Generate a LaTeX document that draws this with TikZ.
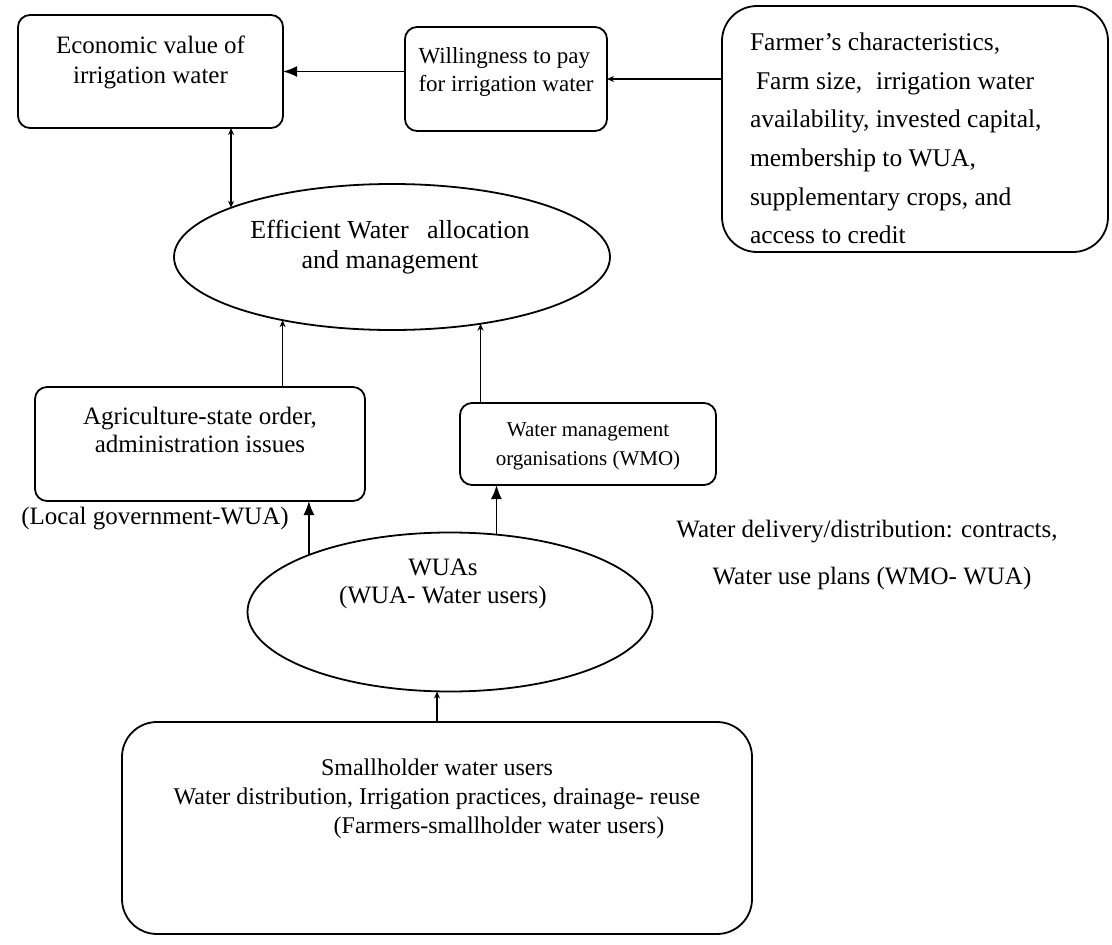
\documentclass[tikz,border=0pt]{standalone}
\usepackage{fontspec}
\setmainfont{Liberation Serif}
\usetikzlibrary{arrows.meta,shapes.geometric}
\newcommand{\fs}[2]{\fontsize{#1}{#2}\selectfont}
\begin{document}
\begin{tikzpicture}[x=1pt,y=-1pt,
  every node/.style={font=\fs{24}{29}},
  box/.style={draw, line width=1.8pt, rounded corners=12pt, inner sep=0pt, outer sep=0pt},
  ell/.style={draw, ellipse, line width=1.8pt, inner sep=0pt, outer sep=0pt},
  txt/.style={inner sep=0pt, outer sep=0pt},
  big/.style={line width=1.6pt, -{Latex[length=14pt,width=11pt]}},
  sm/.style={line width=1.6pt, -{Stealth[length=7pt,width=6pt]}},
  smboth/.style={line width=1.6pt, {Stealth[length=7pt,width=6pt]}-{Stealth[length=7pt,width=6pt]}}
]
\path[use as bounding box] (0,0) rectangle (1112,945);

% boxes
\node[box, minimum width=265pt, minimum height=113pt] (econ) at (150.5,71.5) {};
\node[txt, align=center, font=\fs{25}{30}] (econt) at (150.5,62) {Economic value of\\irrigation water};

\node[box, minimum width=202pt, minimum height=104pt] (will) at (506,79) {};
\node[txt, align=left, font=\fs{23}{28}] (willt) at (506,72) {Willingness to pay\\for irrigation water};

\node[box, rounded corners=35pt, minimum width=386pt, minimum height=246pt] (farm) at (915,129) {};
\node[txt, anchor=north west, align=left, font=\fs{25.5}{38.6}] (farmt) at (750,33)
  {Farmer's characteristics,\\
   \hspace*{6pt}Farm size,\hspace{14pt}irrigation water\\
   availability, invested capital,\\
   membership to WUA,\\
   supplementary crops, and\\
   access to credit};

\node[ell, minimum width=436pt, minimum height=146pt] (eff) at (392,257) {};
\node[txt, align=center, font=\fs{26}{30}] (efft) at (390,247) {Efficient Water\hspace{0.7em}allocation\\and management};

\node[box, minimum width=330pt, minimum height=114pt] (agri) at (200,444) {};
\node[txt, align=center, font=\fs{25}{28}] (agrit) at (200,430) {Agriculture-state order,\\administration issues};

\node[box, minimum width=256pt, minimum height=82pt] (wmo) at (588,444) {};
\node[txt, align=center, font=\fs{21}{29}] (wmot) at (588,446) {Water management\\organisations (WMO)};

\node[txt, font=\fs{25}{29}] (lg) at (155,519) {(Local government-WUA)};
\node[txt, font=\fs{25}{29}] (wd) at (867,532) {Water delivery/distribution: contracts,};
\node[txt, font=\fs{25}{29}] (wu) at (872,578) {Water use plans (WMO- WUA)};

\node[ell, minimum width=405pt, minimum height=159pt] (wuas) at (450,612) {};
\node[txt, align=center, font=\fs{25}{28}] (wuast) at (443,584) {WUAs\\(WUA- Water users)};

\node[box, rounded corners=35pt, minimum width=630pt, minimum height=212pt] (small) at (437,828) {};
\node[txt, align=center] (smallt) at (437,799) {Smallholder water users\\
  Water distribution, Irrigation practices, drainage- reuse\\
  \hspace*{124pt}(Farmers-smallholder water users)};

% connectors
\draw[sm] (farm.west |- will.east) -- (will.east);
\draw[big] (will.west |- econ.east) -- (econ.east);
\draw[smboth] (econ.south -| eff.163.8) -- (eff.163.8);
\draw[sm] (agri.north -| eff.210) -- (eff.210);
\draw[sm] (wmo.north -| eff.323.9) -- (eff.323.9);
\draw[big] (wuas.158.8) -- (wuas.158.8 |- agri.south);
\draw[big] (wuas.59.9) -- (wuas.59.9 |- wmo.south);
\draw[sm] (small.north) -- (small.north |- wuas.south);
\end{tikzpicture}
\end{document}
